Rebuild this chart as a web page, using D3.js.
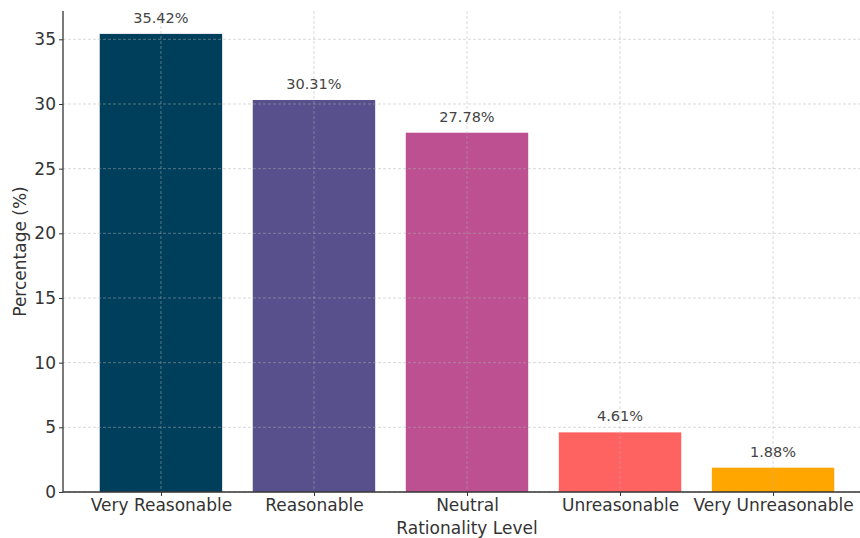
<!DOCTYPE html>
<html><head><meta charset="utf-8">
<script src="https://cdn.jsdelivr.net/npm/d3@7"></script>
<style>body{margin:0;background:#fff}svg{display:block}text{font-family:"DejaVu Sans",sans-serif}</style>
</head><body><svg id="c" width="860" height="538"></svg>
<script>
const categories = ["Very Reasonable","Reasonable","Neutral","Unreasonable","Very Unreasonable"];
const values = [35.42,30.31,27.78,4.61,1.88];
const colors = ["#003f5c","#58508d","#bc5090","#ff6361","#ffa600"];
const yTicks = [0,5,10,15,20,25,30,35];

const svg = d3.select("#c");
const m = {left:63, right:871, top:11, bottom:492};
const x = d3.scaleLinear().domain([-0.64, 4.64]).range([m.left, m.right]);
const y = d3.scaleLinear().domain([0, 37.19]).range([m.bottom, m.top]);
const bw = x(0.4) - x(-0.4);

// bars
svg.append("g").selectAll("rect").data(values).join("rect")
  .attr("x",(d,i)=>x(i)-bw/2).attr("width",bw)
  .attr("y",d=>y(d)).attr("height",d=>y(0)-y(d))
  .attr("fill",(d,i)=>colors[i]);

// grid
const g = svg.append("g").attr("stroke","#b0b0b0").attr("stroke-opacity",0.6).attr("stroke-dasharray","3,2").attr("stroke-width",0.8);
g.selectAll(".h").data(yTicks).join("line").attr("x1",m.left).attr("x2",m.right).attr("y1",d=>y(d)).attr("y2",d=>y(d));
g.selectAll(".v").data(categories).join("line").attr("x1",(d,i)=>x(i)).attr("x2",(d,i)=>x(i)).attr("y1",m.top).attr("y2",m.bottom);

// axes
const ya = svg.append("g").attr("transform",`translate(${m.left},0)`)
  .call(d3.axisLeft(y).tickValues(yTicks).tickSize(4).tickPadding(3).tickFormat(d3.format("d")));
const xa = svg.append("g").attr("transform",`translate(0,${m.bottom})`)
  .call(d3.axisBottom(x).tickValues(d3.range(categories.length)).tickSize(4).tickPadding(3).tickFormat(i=>categories[i]));
[ya,xa].forEach(a=>{
  a.select(".domain").attr("stroke","#333").attr("stroke-width",1.3);
  a.selectAll(".tick line").attr("stroke","#333");
  a.selectAll(".tick text").attr("fill","#333").style("font-size","17px").style("font-family","DejaVu Sans");
});
ya.select(".domain").attr("d",`M0,${m.bottom}V${m.top}`);
xa.select(".domain").attr("d",`M${m.left},0H${m.right}`);

// value labels
svg.append("g").selectAll("text").data(values).join("text")
  .attr("x",(d,i)=>x(i)).attr("y",d=>y(d)-11)
  .attr("text-anchor","middle").attr("fill","#444").style("font-size","14.5px")
  .text(d=>d.toFixed(2)+"%");

// axis titles
svg.append("text").attr("x",(x(0)+x(4))/2).attr("y",534).attr("text-anchor","middle")
  .attr("fill","#333").style("font-size","17px").text("Rationality Level");
svg.append("text").attr("transform",`translate(25.5,251.5) rotate(-90)`).attr("text-anchor","middle")
  .attr("fill","#333").style("font-size","17px").text("Percentage (%)");
</script></body></html>
